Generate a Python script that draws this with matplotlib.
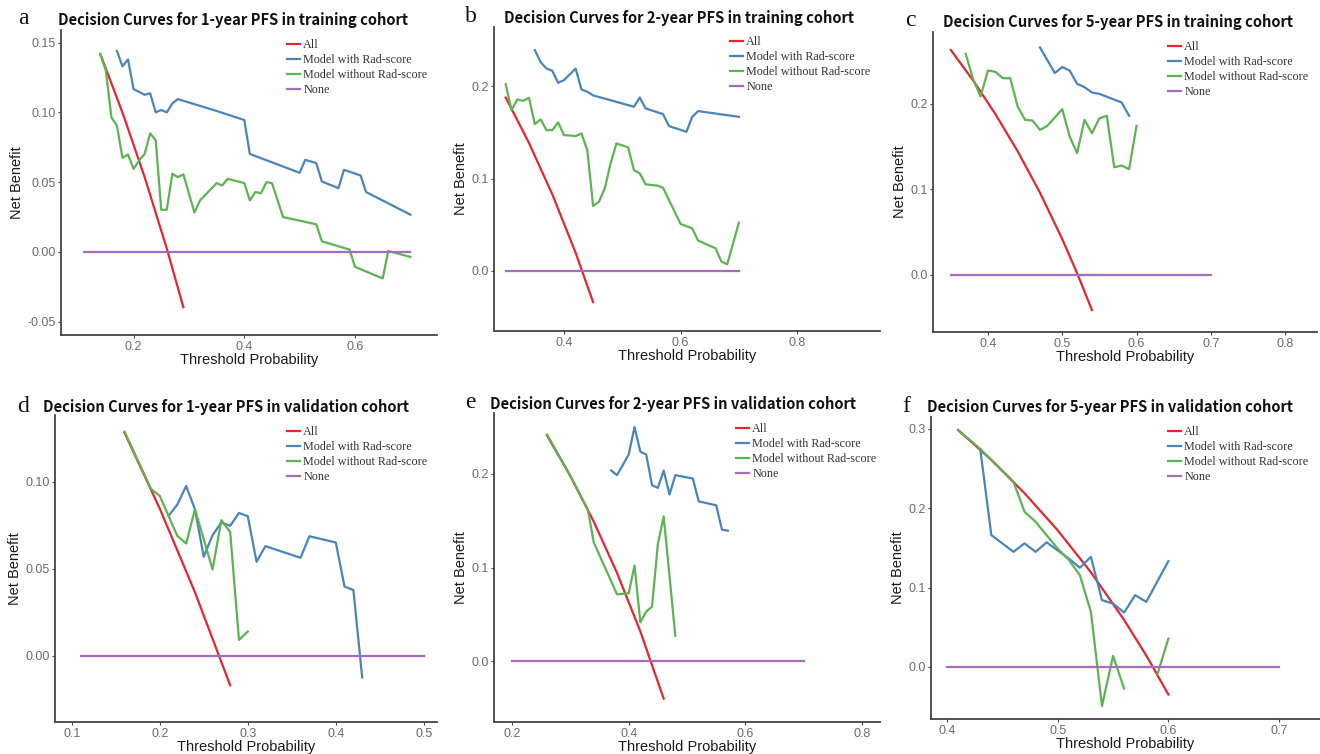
import matplotlib
matplotlib.use("Agg")
import matplotlib.pyplot as plt
import numpy as np

# Colores (paleta Set1)
c_all = "#E3262F"
c_with = "#4A84BC"
c_without = "#5DB352"
c_none = "#A66CBC"

nan = np.nan

# ---- Panel a: 1 año, entrenamiento ----
a_all_x = [0.14, 0.18, 0.22, 0.26, 0.29]
a_all_y = [0.1417, 0.0999, 0.0537, 0.0025, -0.0396]
a_with_x = [0.17, 0.18, 0.19, 0.20, 0.22, 0.23, 0.24, 0.25, 0.26, 0.27, 0.28, 0.35,
            0.40, 0.41, 0.50, 0.51, 0.53, 0.54, 0.57, 0.58, 0.61, 0.62, 0.70]
a_with_y = [0.144, 0.133, 0.138, 0.1167, 0.1126, 0.1136, 0.100, 0.1017, 0.100, 0.1064, 0.1095, 0.101,
            0.0945, 0.0702, 0.0567, 0.066, 0.0636, 0.0505, 0.0457, 0.0588, 0.0548, 0.0429, 0.0267]
a_without_x = [0.14, 0.15, 0.16, 0.17, 0.18, 0.19, 0.20, 0.21, 0.22, 0.23, 0.24, 0.25, 0.26, 0.27,
               0.28, 0.29, 0.31, 0.32, 0.35, 0.36, 0.37, 0.40, 0.41, 0.42, 0.43, 0.44, 0.45, 0.47,
               0.53, 0.54, 0.59, 0.60, 0.65, 0.66, 0.70]
a_without_y = [0.1417, 0.130, 0.0964, 0.0905, 0.0674, 0.0698, 0.0595, 0.0655, 0.0702, 0.085, 0.080,
               0.0302, 0.0302, 0.056, 0.0536, 0.0555, 0.0283, 0.0369, 0.0493, 0.0476, 0.0524, 0.0493,
               0.0369, 0.0429, 0.0421, 0.050, 0.0493, 0.025, 0.0198, 0.0076, 0.0017, -0.0107, -0.019,
               0.0007, -0.0036]
a_none_x = [0.11, 0.70]

# ---- Panel b: 2 años, entrenamiento ----
b_all_x = [0.30, 0.34, 0.38, 0.42, 0.45]
b_all_y = [0.1877, 0.1385, 0.0829, 0.0197, -0.0338]
b_with_x = [0.35, 0.36, 0.37, 0.38, 0.39, 0.40, 0.42, 0.43, 0.44, 0.45, 0.52, 0.53, 0.54, 0.57,
            0.58, 0.61, 0.62, 0.63, 0.70]
b_with_y = [0.239, 0.226, 0.219, 0.2166, 0.2036, 0.2065, 0.219, 0.1964, 0.1939, 0.190, 0.1777,
            0.1877, 0.1759, 0.1697, 0.1568, 0.1506, 0.1668, 0.173, 0.1668]
b_without_x = [0.30, 0.31, 0.32, 0.33, 0.34, 0.35, 0.36, 0.37, 0.38, 0.39, 0.40, 0.42, 0.43, 0.44,
               0.45, 0.46, 0.47, 0.48, 0.49, 0.51, 0.52, 0.53, 0.54, 0.56, 0.57, 0.60, 0.62, 0.63,
               0.66, 0.67, 0.68, 0.70]
b_without_y = [0.2022, 0.174, 0.1856, 0.184, 0.1874, 0.1589, 0.164, 0.1524, 0.1524, 0.1607, 0.147,
               0.146, 0.1488, 0.1308, 0.0703, 0.075, 0.0894, 0.1164, 0.138, 0.1337, 0.1092, 0.1056,
               0.0937, 0.0923, 0.090, 0.0508, 0.0461, 0.0328, 0.0245, 0.0101, 0.0072, 0.0523]
b_none_x = [0.30, 0.70]

# ---- Panel c: 5 años, entrenamiento ----
c_all_x = [0.35, 0.38, 0.41, 0.44, 0.47, 0.50, 0.52, 0.54]
c_all_y = [0.263, 0.2274, 0.188, 0.1446, 0.0962, 0.042, 0.0021, -0.041]
c_with_x = [0.47, 0.49, 0.50, 0.51, 0.52, 0.53, 0.54, 0.55, 0.58, 0.59]
c_with_y = [0.266, 0.236, 0.243, 0.239, 0.2234, 0.2195, 0.2133, 0.2117, 0.2016, 0.186]
c_without_x = [0.37, 0.38, 0.39, 0.40, 0.41, 0.42, 0.43, 0.44, 0.45, 0.46, 0.47, 0.48, 0.50, 0.51,
               0.52, 0.53, 0.54, 0.55, 0.56, 0.57, 0.58, 0.59, 0.60]
c_without_y = [0.2585, 0.2289, 0.2086, 0.239, 0.2374, 0.230, 0.230, 0.1969, 0.1813, 0.1805, 0.1696,
               0.1743, 0.1938, 0.1618, 0.1423, 0.1813, 0.1657, 0.1832, 0.186, 0.1259, 0.1279, 0.1236,
               0.1743]
c_none_x = [0.35, 0.70]

# ---- Panel d: 1 año, validación ----
d_all_x = [0.16, 0.20, 0.24, 0.28]
d_all_y = [0.1283, 0.0847, 0.0366, -0.0169]
d_with_x = [0.21, 0.22, 0.23, 0.24, 0.25, 0.26, 0.27, 0.28, 0.29, 0.30, 0.31, 0.32, 0.36, 0.37,
            0.40, 0.41, 0.42, 0.43]
d_with_y = [0.0805, 0.087, 0.0977, 0.0843, 0.057, 0.0694, 0.0767, 0.0748, 0.0822, 0.0803, 0.0541,
            0.0631, 0.0564, 0.0688, 0.0652, 0.0398, 0.0379, -0.0124]
d_without_x = [0.16, 0.19, 0.20, 0.21, 0.22, 0.23, 0.24, 0.26, 0.27, 0.28, 0.29, 0.30]
d_without_y = [0.129, 0.096, 0.092, 0.0805, 0.069, 0.0646, 0.0843, 0.0497, 0.078, 0.0713, 0.0092, 0.014]
d_none_x = [0.11, 0.50]

# ---- Panel e: 2 años, validación ----
e_all_x = [0.26, 0.30, 0.34, 0.38, 0.42, 0.46]
e_all_y = [0.241, 0.1977, 0.1491, 0.0942, 0.0317, -0.040]
e_with_x = [0.37, 0.38, 0.40, 0.41, 0.42, 0.43, 0.44, 0.45, 0.46, 0.47, 0.48, 0.51, 0.52, 0.55,
            0.56, 0.57]
e_with_y = [0.2036, 0.1986, 0.2207, 0.250, 0.2236, 0.2207, 0.1879, 0.185, 0.2036, 0.1779, 0.1986,
            0.195, 0.1707, 0.1664, 0.1404, 0.1393]
e_without_x = [0.26, 0.30, 0.33, 0.34, 0.35, 0.38, 0.40, 0.41, 0.42, 0.43, 0.44, 0.45, 0.46, 0.48]
e_without_y = [0.242, 0.1977, 0.1618, 0.1271, 0.1129, 0.0714, 0.0725, 0.1021, 0.0414, 0.0529,
               0.0582, 0.125, 0.1546, 0.0271]
e_none_x = [0.20, 0.70]

# ---- Panel f: 5 años, validación ----
f_all_x = [0.41, 0.44, 0.47, 0.50, 0.53, 0.56, 0.58, 0.60]
f_all_y = [0.2985, 0.2609, 0.219, 0.1722, 0.1193, 0.0593, 0.0145, -0.0347]
f_with_x = [0.43, 0.44, 0.46, 0.47, 0.48, 0.49, 0.51, 0.52, 0.53, 0.54, 0.55, 0.56, 0.57, 0.58, 0.60]
f_with_y = [0.2747, 0.1662, 0.1451, 0.1557, 0.1451, 0.157, 0.1367, 0.125, 0.1388, 0.0841, 0.0799,
            0.0686, 0.0905, 0.082, 0.1334]
f_without_x = [0.41, 0.43, 0.46, 0.47, 0.48, 0.49, 0.50, 0.51, 0.52, 0.53, 0.54, 0.55, 0.56,
               0.57, 0.59, 0.60]
f_without_y = [0.2987, 0.2747, 0.2335, 0.1956, 0.183, 0.166, 0.149, 0.135, 0.1157, 0.0694, -0.0492,
               0.0139, -0.0273, nan, -0.0097, 0.0358]
f_none_x = [0.40, 0.70]

# Títulos y letras
letras = ["a", "b", "c", "d", "e", "f"]
titulos = [
    "Decision Curves for 1-year PFS in training cohort",
    "Decision Curves for 2-year PFS in training cohort",
    "Decision Curves for 5-year PFS in training cohort",
    "Decision Curves for 1-year PFS in validation cohort",
    "Decision Curves for 2-year PFS in validation cohort",
    "Decision Curves for 5-year PFS in validation cohort",
]
etiquetas = ["All", "Model with Rad-score", "Model without Rad-score", "None"]

paneles = [
    (a_all_x, a_all_y, a_with_x, a_with_y, a_without_x, a_without_y, a_none_x),
    (b_all_x, b_all_y, b_with_x, b_with_y, b_without_x, b_without_y, b_none_x),
    (c_all_x, c_all_y, c_with_x, c_with_y, c_without_x, c_without_y, c_none_x),
    (d_all_x, d_all_y, d_with_x, d_with_y, d_without_x, d_without_y, d_none_x),
    (e_all_x, e_all_y, e_with_x, e_with_y, e_without_x, e_without_y, e_none_x),
    (f_all_x, f_all_y, f_with_x, f_with_y, f_without_x, f_without_y, f_none_x),
]

# Ticks por panel
xticks = [[0.2, 0.4, 0.6], [0.4, 0.6, 0.8], [0.4, 0.5, 0.6, 0.7, 0.8],
          [0.1, 0.2, 0.3, 0.4, 0.5], [0.2, 0.4, 0.6, 0.8], [0.4, 0.5, 0.6, 0.7]]
xticklabels = [["0.2", "0.4", "0.6"], ["0.4", "0.6", "0.8"], ["0.4", "0.5", "0.6", "0.7", "0.8"],
               ["0.1", "0.2", "0.3", "0.4", "0.5"], ["0.2", "0.4", "0.6", "0.8"],
               ["0.4", "0.5", "0.6", "0.7"]]
yticks = [[-0.05, 0.0, 0.05, 0.10, 0.15], [0.0, 0.1, 0.2], [0.0, 0.1, 0.2],
          [0.0, 0.05, 0.10], [0.0, 0.1, 0.2], [0.0, 0.1, 0.2, 0.3]]
yticklabels = [["-0.05", "0.00", "0.05", "0.10", "0.15"], ["0.0", "0.1", "0.2"], ["0.0", "0.1", "0.2"],
               ["0.00", "0.05", "0.10"], ["0.0", "0.1", "0.2"], ["0.0", "0.1", "0.2", "0.3"]]
xlims = [(0.069, 0.748), (0.28, 0.942), (0.326, 0.843), (0.081, 0.515), (0.169, 0.831), (0.3855, 0.737)]
ylims = [(-0.0595, 0.159), (-0.065, 0.264), (-0.0667, 0.284), (-0.038, 0.1385), (-0.065, 0.265),
         (-0.0656, 0.315)]

# Posición de los ejes en píxeles: izquierda, derecha, arriba, abajo
cajas = [(61, 437, 30, 335), (494, 880, 27, 331), (933, 1317, 32, 332),
         (55, 437, 415, 722), (494, 880, 413, 722), (931, 1320, 417, 719)]
# Posición de letra, título y leyenda (píxeles)
pos_letra = [(18, 19), (465, 17), (905, 21), (17, 406), (465, 403), (902, 406)]
pos_titulo = [(58, 20), (504, 18), (943, 22), (43, 407), (490, 404), (927, 407)]
pos_leyenda = [(287, 46), (730, 43), (1168, 48), (287, 433), (736, 430), (1168, 433)]

W, H = 1320, 754
fig = plt.figure(figsize=(W / 100, H / 100), dpi=100)

for i, datos in enumerate(paneles):
    all_x, all_y, with_x, with_y, without_x, without_y, none_x = datos
    l, r, t, b = cajas[i]
    ax = fig.add_axes([l / W, 1 - b / H, (r - l) / W, (b - t) / H])
    ax.plot(all_x, all_y, color=c_all, lw=1.6, label=etiquetas[0])
    ax.plot(with_x, with_y, color=c_with, lw=1.6, label=etiquetas[1])
    ax.plot(without_x, without_y, color=c_without, lw=1.6, label=etiquetas[2])
    ax.plot(none_x, [0, 0], color=c_none, lw=1.6, label=etiquetas[3])

    ax.set_xlim(*xlims[i])
    ax.set_ylim(*ylims[i])
    ax.set_xticks(xticks[i])
    ax.set_xticklabels(xticklabels[i])
    ax.set_yticks(yticks[i])
    ax.set_yticklabels(yticklabels[i])
    for lado in ["top", "right"]:
        ax.spines[lado].set_visible(False)
    for lado in ["left", "bottom"]:
        ax.spines[lado].set_color("#444444")
        ax.spines[lado].set_linewidth(1.3)
    ax.tick_params(axis="both", colors="#444444", labelcolor="#6b6b6b", labelsize=9,
                   length=2.5, width=0.8, pad=1.5)
    for lbl in ax.get_xticklabels() + ax.get_yticklabels():
        lbl.set_fontfamily("Liberation Sans")
    ax.set_xlabel("Threshold Probability", fontsize=10.5, family="Liberation Sans",
                  color="#1a1a1a", labelpad=0)
    ax.set_ylabel("Net Benefit", fontsize=10.5, family="Liberation Sans",
                  color="#1a1a1a", labelpad=2)

    lx, ly = pos_leyenda[i]
    ax.legend(loc="upper left", bbox_to_anchor=(lx / W, 1 - (ly - 7) / H),
              bbox_transform=fig.transFigure, frameon=False, borderpad=0, borderaxespad=0,
              handlelength=1.1, handletextpad=0.25, labelspacing=0.25,
              prop={"family": "Liberation Serif", "size": 8.7}, labelcolor="#333333")

    px, py = pos_letra[i]
    fig.text(px / W, 1 - py / H, letras[i], fontsize=17, family="Liberation Serif",
             ha="left", va="center", color="#111111")
    tx, ty = pos_titulo[i]
    fig.text(tx / W, 1 - ty / H, titulos[i], fontsize=10.6, family="Noto Sans CJK SC",
             fontweight="bold", ha="left", va="center", color="#111111")

fig.savefig("out.png", dpi=100)
